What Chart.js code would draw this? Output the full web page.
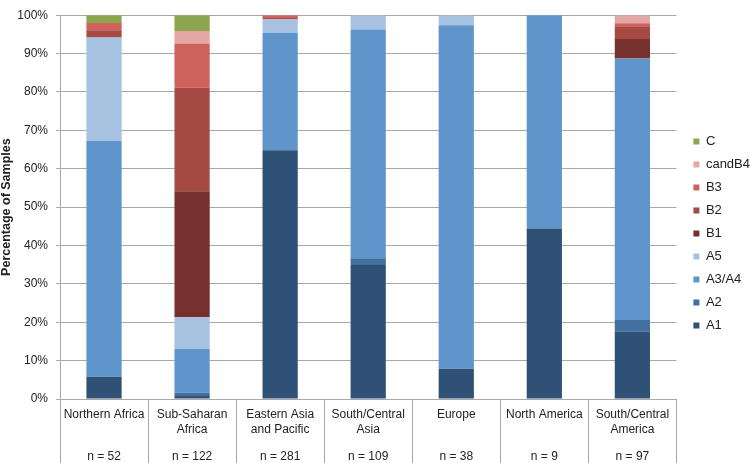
<!DOCTYPE html>
<html>
<head>
<meta charset="utf-8">
<script src="https://cdn.jsdelivr.net/npm/chart.js@4.4.1/dist/chart.umd.min.js"></script>
<style>
  html, body { margin: 0; padding: 0; background: #fff; }
  canvas { display: block; }
</style>
</head>
<body>
<canvas id="chart" width="750" height="463"></canvas>
<script>
// regions (x axis) and sample counts shown under them
const regions = [
  ['Northern Africa'],
  ['Sub-Saharan', 'Africa'],
  ['Eastern Asia', 'and Pacific'],
  ['South/Central', 'Asia'],
  ['Europe'],
  ['North America'],
  ['South/Central', 'America']
];
const sampleLabels = ['n = 52', 'n = 122', 'n = 281', 'n = 109', 'n = 38', 'n = 9', 'n = 97'];

// percentage of samples per genotype, stacked bottom to top
const A1     = [5.8, 0.8, 64.8, 34.9, 7.9, 44.4, 17.5];
const A2     = [0, 0.8, 0, 1.8, 0, 0, 3.1];
const A3A4   = [61.5, 11.5, 30.55, 59.6, 89.5, 55.6, 68.1];
const A5     = [26.9, 8.2, 3.6, 3.7, 2.6, 0, 0];
const B1     = [0, 32.8, 0, 0, 0, 0, 5.1];
const B2     = [1.9, 27.0, 0.35, 0, 0, 0, 3.1];
const B3     = [1.9, 11.5, 0.7, 0, 0, 0, 1.0];
const candB4 = [0, 3.3, 0, 0, 0, 0, 2.1];
const C      = [2.0, 4.1, 0, 0, 0, 0, 0];

const yTicks = [0, 10, 20, 30, 40, 50, 60, 70, 80, 90, 100];

const gridColor = '#a8a8a8';
const textColor = '#222';
const narrow = '"Liberation Sans Narrow", "Arial Narrow", "Liberation Sans", Arial, sans-serif';
const regular = '"Liberation Sans", Arial, sans-serif';

const ds = (label, data, color) => ({ label, data, backgroundColor: color, borderWidth: 0 });

new Chart(document.getElementById('chart').getContext('2d'), {
  type: 'bar',
  data: {
    labels: regions,
    datasets: [
      ds('A1', A1, '#2F5175'),
      ds('A2', A2, '#41709F'),
      ds('A3/A4', A3A4, '#5F95CB'),
      ds('A5', A5, '#A7C1E0'),
      ds('B1', B1, '#76302D'),
      ds('B2', B2, '#A64A44'),
      ds('B3', B3, '#CF625C'),
      ds('candB4', candB4, '#E3A7A5'),
      ds('C', C, '#8BA64F')
    ]
  },
  options: {
    responsive: false,
    devicePixelRatio: 1,
    animation: false,
    barPercentage: 0.4,
    categoryPercentage: 1,
    layout: { autoPadding: false, padding: { top: 4, left: 0, right: -10, bottom: 0 } },
    plugins: {
      tooltip: { enabled: false },
      legend: {
        position: 'right',
        reverse: true,
        labels: {
          boxWidth: 6,
          boxHeight: 6,
          padding: 10,
          color: textColor,
          font: { family: regular, size: 13 }
        }
      }
    },
    scales: {
      x: {
        stacked: true,
        weight: 0,
        grid: { offset: true, drawOnChartArea: false, tickLength: 64, color: gridColor },
        border: { color: gridColor },
        ticks: {
          padding: -56.5,
          color: textColor,
          maxRotation: 0,
          autoSkip: false,
          font: { family: narrow, size: 12, lineHeight: 1.3 }
        },
        afterFit: s => { s.height = 39; }
      },
      x2: {
        type: 'category',
        labels: sampleLabels,
        position: 'bottom',
        offset: true,
        weight: 1,
        grid: { display: false },
        border: { display: false },
        ticks: {
          padding: 3.8,
          color: textColor,
          maxRotation: 0,
          autoSkip: false,
          font: { family: narrow, size: 12 }
        },
        afterFit: s => { s.height = 25; }
      },
      y: {
        stacked: true,
        min: 0,
        max: 100,
        afterBuildTicks: s => { s.ticks = yTicks.map(v => ({ value: v })); },
        grid: { color: gridColor, tickLength: 4 },
        border: { color: gridColor },
        ticks: {
          padding: 8,
          color: textColor,
          font: { family: regular, size: 12 },
          callback: v => v + '%'
        },
        title: {
          display: true,
          text: 'Percentage of Samples',
          color: textColor,
          padding: 0,
          font: { family: regular, size: 12.5, weight: 'bold', lineHeight: 1 }
        },
        afterFit: s => { s.width = 60; }
      },
      spacer: {
        type: 'linear',
        position: 'right',
        grid: { display: false },
        border: { display: false },
        ticks: { display: false },
        afterFit: s => { s.width = 7; }
      }
    }
  }
});
</script>
</body>
</html>
